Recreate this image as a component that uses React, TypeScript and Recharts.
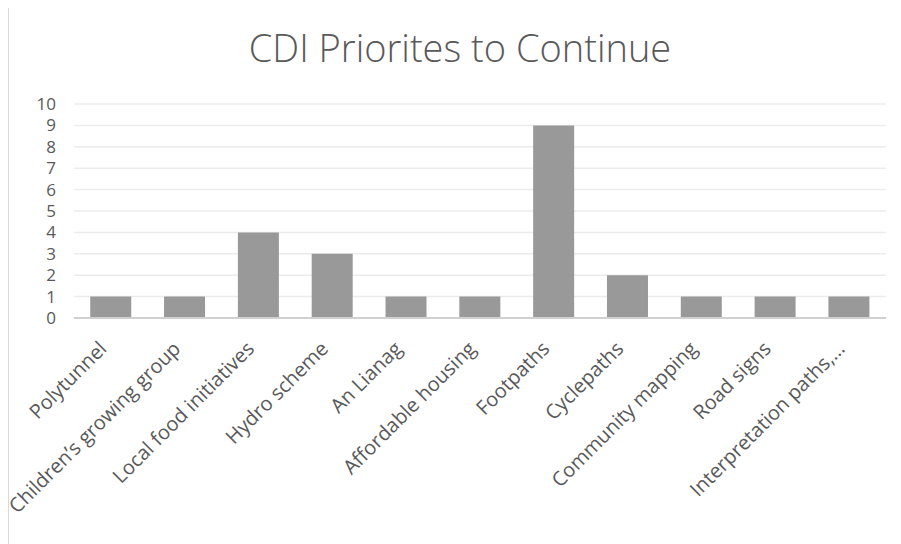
import { Bar, BarChart, CartesianGrid, XAxis, YAxis } from 'recharts';

const categories = [
  'Polytunnel',
  'Children’s growing group',
  'Local food initiatives',
  'Hydro scheme',
  'An Lianag',
  'Affordable housing',
  'Footpaths',
  'Cyclepaths',
  'Community mapping',
  'Road signs',
  'Interpretation paths,…',
];

const counts = [1, 1, 4, 3, 1, 1, 9, 2, 1, 1, 1];

const yTicks = [0, 1, 2, 3, 4, 5, 6, 7, 8, 9, 10];

const chartTitle = 'CDI Priorites to Continue';

const textColor = '#595959';
const fontFamily = '"Open Sans", "Liberation Sans", sans-serif';

// rotated category label, end of the text sits just under the tick
function CategoryTick({ x, y, payload }: { x?: number; y?: number; payload?: { value: string } }) {
  return (
    <g transform={`translate(${(x ?? 0) - 3},${(y ?? 0) + 26})`}>
      <text
        x={0}
        y={0}
        textAnchor="end"
        transform="rotate(-45)"
        fill={textColor}
        fontSize={20}
        fontFamily={fontFamily}
      >
        {payload?.value}
      </text>
    </g>
  );
}

export default function App() {
  const data = categories.map((name, i) => ({ name, count: counts[i] }));

  return (
    <div
      style={{
        position: 'relative',
        marginTop: -3,
        width: 892,
        height: 538,
        borderLeft: '1px solid #d9d9d9',
        borderTop: '1px solid #d9d9d9',
        background: '#fff',
        fontFamily,
      }}
    >
      <div
        style={{
          position: 'absolute',
          left: 151,
          top: 22,
          width: 600,
          textAlign: 'center',
          fontSize: 38,
          fontWeight: 300,
          lineHeight: 1,
          color: textColor,
          whiteSpace: 'nowrap',
        }}
      >
        {chartTitle}
      </div>
      <BarChart
        width={892}
        height={538}
        data={data}
        margin={{ top: 98, right: 15, left: 0, bottom: 26 }}
        barCategoryGap="22%"
      >
        <CartesianGrid vertical={false} stroke="#ececec" strokeWidth={1.5} />
        <XAxis
          dataKey="name"
          interval={0}
          height={200}
          axisLine={{ stroke: '#d0d0d0', strokeWidth: 2 }}
          tickLine={false}
          tickMargin={0}
          tick={<CategoryTick />}
        />
        <YAxis
          width={65}
          domain={[0, 10]}
          ticks={yTicks}
          interval={0}
          axisLine={false}
          tickLine={false}
          tickMargin={12}
          tick={{ fill: textColor, fontSize: 17, fontFamily }}
        />
        <Bar dataKey="count" fill="#999999" isAnimationActive={false} />
      </BarChart>
    </div>
  );
}
